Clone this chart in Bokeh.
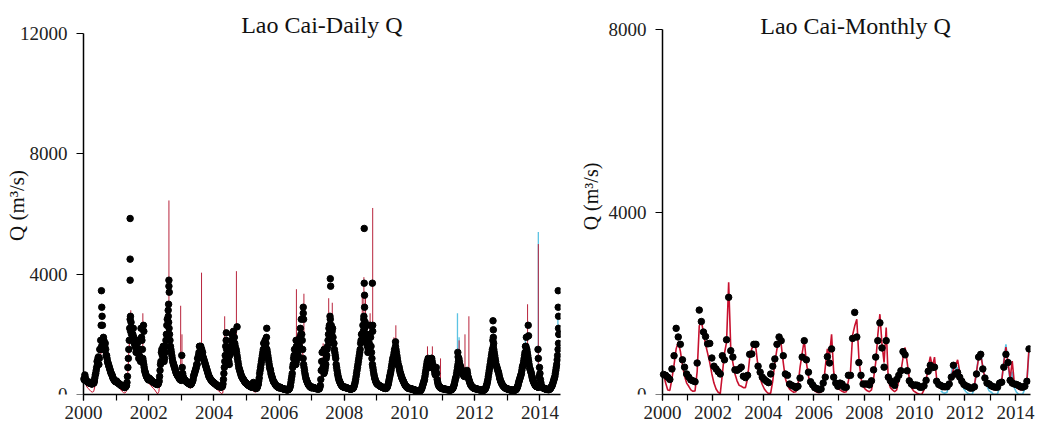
import numpy as np
from bokeh.plotting import figure
from bokeh.layouts import row
from bokeh.models import Label, SingleIntervalTicker, FixedTicker, Range1d
from bokeh.embed import file_html
from bokeh.resources import INLINE

SERIF = "Liberation Serif"
RED = "#c8102e"
BLUE = "#5cc3e3"

# ---------------- Daily panel: observed (3 values per month, Jan 2000 - Jul 2014)
obs_d_2000 = [520, 650, 480, 450, 420, 400, 380, 400, 360, 350, 420, 380, 550, 700, 900, 1000, 1250, 1200, 1500, 2300, 1800, 1700, 1800, 1600, 1500, 1300, 1100, 1000, 900, 800, 700, 650, 550, 500, 450, 420]
obs_d_2001 = [450, 400, 380, 350, 330, 300, 300, 280, 250, 230, 250, 300, 600, 1200, 1800, 2500, 2400, 2200, 2000, 1900, 1800, 1600, 1500, 1700, 1400, 1300, 1250, 2200, 1800, 1200, 1000, 800, 700, 600, 550, 500]
obs_d_2002 = [550, 500, 480, 450, 420, 400, 380, 360, 350, 330, 350, 450, 800, 1100, 1500, 1400, 1300, 1200, 1600, 2000, 2500, 2800, 2200, 1800, 1500, 1300, 1100, 1000, 900, 800, 700, 650, 600, 550, 500, 480]
obs_d_2003 = [1300, 700, 550, 500, 450, 430, 400, 380, 360, 340, 330, 380, 450, 600, 700, 800, 900, 1000, 1200, 1400, 1600, 1600, 1500, 1400, 1200, 1100, 1000, 900, 800, 700, 600, 550, 500, 450, 420, 400]
obs_d_2004 = [380, 350, 330, 300, 280, 270, 260, 250, 250, 280, 500, 900, 1300, 1800, 1200, 1000, 1100, 1300, 1600, 1800, 2000, 2100, 1900, 1600, 1500, 1300, 1100, 900, 800, 700, 600, 550, 500, 450, 400, 380]
obs_d_2005 = [350, 320, 300, 280, 260, 250, 240, 400, 300, 220, 200, 220, 300, 450, 700, 900, 1100, 1300, 1500, 1700, 1800, 1700, 1500, 1300, 1100, 900, 800, 650, 550, 450, 400, 350, 300, 280, 250, 230]
obs_d_2006 = [250, 230, 210, 200, 190, 180, 170, 160, 160, 150, 170, 200, 300, 500, 700, 1000, 1300, 1200, 1000, 1200, 1500, 1800, 1600, 2200, 2500, 1800, 1200, 900, 700, 550, 450, 380, 320, 280, 250, 230]
obs_d_2007 = [250, 230, 220, 210, 200, 190, 190, 180, 200, 300, 800, 1400, 900, 700, 800, 1000, 1300, 1600, 2000, 2300, 2500, 2300, 2100, 1900, 1700, 1400, 1200, 900, 700, 550, 450, 380, 320, 280, 260, 240]
obs_d_2008 = [250, 230, 220, 210, 200, 190, 180, 180, 190, 200, 250, 350, 500, 700, 900, 1100, 1300, 1500, 1800, 2000, 2300, 2500, 2200, 2000, 1800, 1600, 1500, 1700, 2300, 1600, 1200, 900, 700, 550, 450, 380]
obs_d_2009 = [350, 320, 300, 280, 260, 250, 230, 220, 210, 200, 210, 250, 350, 500, 650, 800, 1000, 1200, 1300, 1500, 1600, 1400, 1200, 1000, 900, 750, 650, 550, 480, 420, 350, 300, 260, 230, 210, 200]
obs_d_2010 = [200, 190, 180, 170, 160, 150, 140, 130, 120, 120, 110, 120, 150, 200, 300, 400, 500, 700, 900, 1100, 1200, 1000, 900, 1100, 1200, 1000, 900, 800, 650, 900, 500, 350, 280, 240, 220, 200]
obs_d_2011 = [200, 190, 180, 170, 170, 160, 160, 150, 150, 150, 160, 200, 250, 350, 500, 600, 800, 1000, 1200, 1000, 900, 800, 700, 650, 600, 700, 650, 800, 600, 500, 400, 320, 280, 250, 220, 200]
obs_d_2012 = [200, 190, 180, 170, 160, 160, 150, 150, 140, 140, 150, 180, 250, 350, 500, 700, 900, 1100, 1300, 1500, 1600, 1400, 1200, 1000, 900, 800, 700, 550, 450, 380, 320, 280, 250, 220, 200, 190]
obs_d_2013 = [180, 170, 160, 150, 150, 140, 140, 140, 150, 160, 200, 280, 400, 500, 600, 700, 900, 1000, 1200, 1400, 1600, 1500, 1300, 1100, 900, 800, 700, 550, 450, 380, 320, 280, 260, 250, 240, 900]
obs_d_2014 = [500, 300, 250, 220, 200, 190, 180, 170, 170, 160, 170, 200, 250, 300, 400, 500, 600, 800, 1000, 1300, 1700]

# in-between days (5 days after each value above): the day-to-day scatter of the band
obs_e_2000 = [480, 560, 460, 430, 410, 390, 370, 380, 350, 380, 400, 450, 650, 800, 1100, 1200, 1000, 1500, 1800, 1600, 1500, 1900, 1500, 1700, 1300, 1200, 1050, 950, 850, 750, 680, 600, 520, 480, 440, 430]
obs_e_2001 = [420, 390, 360, 340, 310, 300, 290, 260, 240, 240, 280, 400, 900, 1500, 2200, 2100, 2000, 1800, 2200, 1700, 1600, 1400, 1800, 1500, 1200, 1500, 1100, 1900, 1500, 1100, 900, 750, 650, 580, 520, 480]
obs_e_2002 = [520, 490, 460, 430, 410, 390, 370, 350, 340, 340, 400, 600, 1000, 1400, 1300, 1600, 1100, 1400, 1800, 2300, 2000, 2400, 2000, 1600, 1400, 1200, 1050, 950, 850, 750, 680, 620, 580, 520, 490, 470]
obs_e_2003 = [900, 600, 520, 480, 440, 420, 390, 370, 350, 330, 350, 420, 500, 650, 750, 850, 1000, 1200, 1300, 1600, 1400, 1500, 1300, 1250, 1150, 1050, 950, 850, 750, 650, 580, 520, 480, 440, 410, 390]
obs_e_2004 = [360, 340, 310, 290, 270, 260, 250, 250, 260, 350, 700, 1100, 1600, 1500, 1100, 1200, 1000, 1500, 1400, 2000, 1700, 1900, 1700, 1500, 1400, 1200, 1000, 850, 750, 650, 580, 520, 480, 430, 390, 370]
obs_e_2005 = [330, 310, 290, 270, 250, 240, 300, 350, 260, 210, 210, 250, 350, 550, 800, 1000, 1200, 1400, 1700, 1500, 1600, 1900, 1400, 1200, 1000, 850, 700, 600, 500, 420, 380, 330, 290, 260, 240, 220]
obs_e_2006 = [240, 220, 200, 195, 185, 175, 165, 160, 155, 160, 180, 250, 400, 600, 900, 1200, 1500, 1000, 1100, 1400, 1300, 1500, 1900, 2000, 2000, 1500, 1000, 800, 620, 500, 420, 350, 300, 270, 240, 220]
obs_e_2007 = [240, 225, 215, 205, 195, 190, 185, 185, 250, 500, 1100, 1100, 800, 750, 900, 1200, 1500, 1800, 2200, 2000, 2200, 2000, 2200, 1700, 1500, 1300, 1000, 800, 620, 500, 420, 350, 300, 270, 250, 235]
obs_e_2008 = [240, 225, 215, 205, 195, 185, 180, 185, 195, 220, 300, 420, 600, 800, 1000, 1200, 1400, 1700, 2000, 1800, 2100, 2200, 2400, 1800, 1700, 1400, 1600, 2000, 1900, 1400, 1000, 800, 620, 500, 420, 360]
obs_e_2009 = [330, 310, 290, 270, 255, 240, 225, 215, 205, 205, 230, 300, 420, 580, 720, 900, 1100, 1100, 1400, 1400, 1500, 1300, 1100, 950, 820, 700, 600, 520, 450, 380, 320, 280, 245, 220, 205, 195]
obs_e_2010 = [195, 185, 175, 165, 155, 145, 135, 125, 120, 115, 115, 130, 170, 250, 350, 450, 600, 800, 1000, 1000, 1100, 950, 1000, 1200, 1100, 950, 850, 700, 800, 700, 420, 310, 260, 230, 210, 195]
obs_e_2011 = [195, 185, 175, 170, 165, 160, 155, 150, 150, 155, 180, 220, 300, 420, 550, 700, 900, 1100, 1100, 950, 850, 750, 680, 620, 650, 680, 720, 700, 550, 450, 360, 300, 260, 235, 210, 195]
obs_e_2012 = [195, 185, 175, 165, 160, 155, 150, 145, 140, 145, 165, 210, 300, 420, 600, 800, 1000, 1200, 1400, 1800, 1500, 1300, 1100, 950, 850, 750, 620, 500, 420, 350, 300, 265, 235, 210, 195, 185]
obs_e_2013 = [175, 165, 155, 150, 145, 140, 140, 145, 155, 180, 240, 330, 450, 550, 650, 800, 950, 1100, 1300, 1600, 1900, 1400, 1200, 1000, 850, 750, 620, 500, 420, 350, 300, 270, 255, 245, 600, 700]
obs_e_2014 = [400, 270, 235, 210, 195, 185, 175, 170, 165, 165, 185, 220, 280, 350, 450, 550, 700, 900, 1150, 1500, 2000]

# flood-day observations standing out above the band (decimal year, m3/s)
obs_peak_t = [2000.55, 2000.56, 2000.57, 2000.58, 2001.43, 2001.43, 2001.43, 2001.44, 2001.84, 2001.85,
              2002.62, 2002.62, 2002.63, 2002.61, 2002.60, 2004.38, 2004.71, 2005.62, 2006.74, 2006.74,
              2006.75, 2006.52, 2006.53, 2007.57, 2007.58, 2007.56, 2007.38, 2008.61, 2008.61, 2008.62,
              2008.62, 2008.60, 2008.86, 2008.87, 2008.87, 2009.57, 2011.48, 2011.49, 2012.56, 2012.57,
              2012.57, 2012.58, 2013.64, 2013.65, 2013.94, 2013.95, 2014.56, 2014.56, 2014.57, 2014.57, 2014.58]
obs_peak_q = [3450, 2900, 2600, 2300, 5850, 4500, 3800, 2600, 2300, 2100,
              3800, 3600, 3400, 3000, 2600, 2050, 2250, 2200, 2900, 2700,
              2500, 1800, 1600, 3850, 3600, 2600, 1500, 5520, 3700, 3300,
              2900, 2600, 3700, 2300, 2100, 1750, 1400, 1250, 2450, 2150,
              1900, 1700, 2300, 1950, 1500, 1200, 3450, 2900, 2600, 2200, 2000]

# ---------------- Daily panel: simulated (2 values per month)
sim_d_2000 = [450, 350, 250, 200, 150, 100, 80, 100, 300, 600, 900, 1100, 1300, 1500, 1600, 1500, 1300, 1100, 900, 800, 650, 550, 450, 350]
sim_d_2001 = [300, 250, 200, 150, 100, 60, 50, 100, 600, 1500, 2200, 2000, 1800, 1700, 1500, 1600, 1300, 1100, 1500, 1000, 800, 650, 500, 400]
sim_d_2002 = [350, 300, 250, 200, 150, 80, 20, 100, 600, 1100, 1300, 1200, 1500, 2200, 2500, 1800, 1300, 1100, 900, 750, 600, 500, 420, 380]
sim_d_2003 = [800, 500, 400, 350, 300, 250, 200, 250, 400, 600, 800, 1000, 1300, 1500, 1400, 1300, 1100, 900, 750, 600, 500, 400, 330, 280]
sim_d_2004 = [250, 200, 150, 120, 80, 30, 50, 500, 1200, 1000, 1000, 1200, 1500, 1900, 1800, 1500, 1200, 1000, 800, 650, 500, 420, 350, 300]
sim_d_2005 = [250, 200, 180, 150, 130, 100, 80, 100, 300, 600, 900, 1200, 1500, 1700, 1500, 1200, 900, 700, 550, 450, 350, 280, 220, 180]
sim_d_2006 = [160, 140, 120, 100, 80, 60, 60, 100, 300, 600, 1000, 1200, 1000, 1300, 1600, 1800, 2000, 1300, 800, 600, 450, 350, 280, 220]
sim_d_2007 = [180, 160, 140, 120, 100, 100, 200, 1000, 800, 700, 1100, 1500, 2000, 2300, 2200, 1900, 1500, 1100, 800, 600, 450, 350, 280, 220]
sim_d_2008 = [180, 160, 140, 120, 100, 100, 150, 250, 500, 800, 1100, 1400, 1800, 2200, 2300, 2000, 1700, 1500, 2000, 1500, 900, 600, 400, 300]
sim_d_2009 = [250, 220, 200, 180, 150, 130, 130, 180, 350, 550, 800, 1100, 1400, 1500, 1300, 1000, 800, 650, 500, 400, 300, 230, 180, 150]
sim_d_2010 = [130, 110, 90, 70, 50, 40, 30, 40, 100, 200, 350, 600, 900, 1100, 1000, 1000, 1100, 900, 700, 800, 450, 300, 220, 180]
sim_d_2011 = [160, 150, 140, 130, 120, 110, 110, 150, 250, 400, 600, 900, 1000, 900, 750, 650, 600, 650, 700, 550, 380, 300, 250, 200]
sim_d_2012 = [180, 160, 150, 140, 130, 120, 120, 150, 250, 400, 700, 1000, 1300, 1500, 1300, 1100, 900, 750, 550, 420, 320, 260, 220, 190]
sim_d_2013 = [170, 150, 140, 130, 120, 120, 130, 200, 350, 500, 700, 900, 1200, 1500, 1400, 1200, 900, 750, 550, 420, 320, 270, 250, 600]
sim_d_2014 = [400, 250, 200, 170, 150, 140, 140, 160, 220, 320, 450, 600, 900, 1400]

# short simulated flood spikes (decimal year, foot value, peak value)
red_spike_t = [2001.45, 2001.82, 2002.40, 2002.62, 2002.98, 2003.02, 2003.62, 2004.33, 2004.69, 2006.53,
               2006.62, 2006.76, 2007.35, 2007.52, 2007.63, 2008.55, 2008.60, 2008.65, 2008.79, 2008.87,
               2009.52, 2009.58, 2010.55, 2010.70, 2010.95, 2011.52, 2011.70, 2011.82, 2013.40, 2013.62, 2013.95]
red_spike_lo = [2200, 1500, 1200, 2500, 800, 700, 1500, 1000, 2000, 1400,
                1500, 2000, 1000, 2300, 2300, 2000, 2200, 2000, 1600, 2000,
                1200, 1500, 1000, 1000, 500, 1000, 700, 700, 300, 1500, 600]
red_spike_hi = [2800, 2700, 1700, 6450, 2950, 2000, 4050, 2600, 4100, 3500,
                2100, 3350, 1700, 3200, 3050, 3300, 3900, 3400, 2700, 6200,
                1900, 2300, 1600, 1600, 1200, 1800, 2000, 2600, 1000, 3000, 5000]
blue_spike_t = [2011.43, 2011.47, 2011.52, 2013.55, 2013.95, 2014.55]
blue_spike_lo = [800, 1000, 1000, 1200, 600, 2000]
blue_spike_hi = [1500, 2700, 1900, 1800, 5400, 2600]

# ---------------- Monthly panel (Jan 2000 - Jul 2014)
obs_m = [440, 420, 380, 330, 560, 850, 1450, 1260, 1100, 760, 600, 450,
         380, 320, 300, 280, 690, 1850, 1600, 1370, 1270, 1110, 1120, 800,
         620, 560, 500, 450, 850, 760, 1200, 2130, 960, 820, 540, 530,
         560, 600, 400, 370, 420, 880, 890, 1100, 1100, 620, 490, 380,
         330, 290, 260, 450, 620, 780, 1100, 1260, 1180, 850, 450, 420,
         230, 200, 180, 150, 180, 360, 820, 1180, 760, 490, 280, 210,
         150, 130, 110, 120, 250, 380, 830, 690, 1000, 380, 250, 180,
         250, 230, 160, 160, 420, 420, 1230, 1800, 1260, 700, 420, 230,
         230, 230, 210, 300, 540, 820, 1180, 1570, 1020, 600, 1180, 380,
         300, 240, 200, 330, 420, 520, 940, 870, 520, 300, 230, 200,
         210, 200, 160, 160, 190, 310, 510, 640, 590, 600, 290, 220,
         200, 170, 170, 170, 230, 380, 640, 450, 480, 380, 290, 220,
         190, 170, 140, 140, 170, 450, 820, 880, 560, 360, 250, 230,
         190, 170, 160, 160, 250, 270, 600, 880, 700, 310, 250, 230,
         220, 200, 170, 160, 180, 290, 1000]
sim_m = [450, 250, 100, 90, 350, 650, 1000, 1150, 950, 650, 400, 250,
         180, 100, 70, 80, 500, 1500, 1620, 1350, 1100, 900, 700, 450,
         250, 120, 50, 20, 450, 900, 1150, 2460, 1000, 700, 450, 300,
         200, 180, 150, 150, 350, 800, 1000, 1100, 1000, 600, 350, 220,
         120, 60, 20, 30, 300, 700, 1000, 1150, 1100, 700, 350, 200,
         120, 80, 50, 60, 200, 600, 900, 1200, 700, 400, 200, 120,
         80, 50, 40, 50, 150, 600, 1000, 850, 1320, 500, 250, 130,
         100, 70, 50, 60, 300, 500, 1300, 1500, 1650, 800, 350, 180,
         120, 80, 60, 100, 350, 700, 1300, 1760, 1100, 700, 1470, 300,
         150, 100, 60, 100, 300, 500, 800, 1030, 700, 350, 150, 80,
         50, 20, 5, 10, 100, 300, 600, 830, 600, 820, 350, 150,
         150, 120, 110, 120, 250, 400, 550, 620, 760, 500, 280, 180,
         150, 130, 120, 130, 200, 500, 800, 880, 600, 350, 220, 150,
         130, 110, 100, 110, 200, 300, 700, 1040, 700, 350, 730, 250,
         150, 120, 100, 110, 150, 300, 1030]
sim2_m_start = 2011
sim2_m = [80, 40, 30, 50, 250, 450, 700, 550, 600, 450, 250, 120,
          60, 20, 5, 10, 150, 500, 850, 950, 600, 350, 180, 80,
          50, 10, 5, 10, 180, 300, 750, 1100, 650, 300, 500, 150,
          50, 10, 5, 10, 120, 280, 950]

title_daily = "Lao Cai-Daily Q"
title_monthly = "Lao Cai-Monthly Q"
y_label = "Q (m\u00b3/s)"

# ---------------- assemble
obs_d = np.array(obs_d_2000 + obs_d_2001 + obs_d_2002 + obs_d_2003 + obs_d_2004 + obs_d_2005 + obs_d_2006 +
                 obs_d_2007 + obs_d_2008 + obs_d_2009 + obs_d_2010 + obs_d_2011 + obs_d_2012 + obs_d_2013 +
                 obs_d_2014, dtype=float)
t_obs_d = 2000 + (np.arange(len(obs_d)) + 0.5) / 36.0
obs_e = np.array(obs_e_2000 + obs_e_2001 + obs_e_2002 + obs_e_2003 + obs_e_2004 + obs_e_2005 + obs_e_2006 +
                 obs_e_2007 + obs_e_2008 + obs_e_2009 + obs_e_2010 + obs_e_2011 + obs_e_2012 + obs_e_2013 +
                 obs_e_2014, dtype=float)
t_obs_e = 2000 + (np.arange(len(obs_e)) + 1.0) / 36.0
sim_d = np.array(sim_d_2000 + sim_d_2001 + sim_d_2002 + sim_d_2003 + sim_d_2004 + sim_d_2005 + sim_d_2006 +
                 sim_d_2007 + sim_d_2008 + sim_d_2009 + sim_d_2010 + sim_d_2011 + sim_d_2012 + sim_d_2013 +
                 sim_d_2014, dtype=float)
t_sim_d = 2000 + (np.arange(len(sim_d)) + 0.5) / 24.0
t_m = 2000 + (np.arange(len(obs_m)) + 0.5) / 12.0
t_m2 = sim2_m_start + (np.arange(len(sim2_m)) + 0.5) / 12.0


def style(p, x_end, y_top, yticks):
    p.xaxis.ticker = SingleIntervalTicker(interval=2, num_minor_ticks=2)
    p.yaxis.ticker = FixedTicker(ticks=yticks)
    p.xaxis.bounds = (2000, x_end)
    p.yaxis.bounds = (0, y_top)
    p.yaxis.fixed_location = 2000
    for ax in (p.xaxis[0], p.yaxis[0]):
        ax.axis_line_color = "black"
        ax.axis_line_width = 1.5
        ax.major_tick_line_color = "black"
        ax.major_tick_line_width = 1.2
        ax.major_tick_in = 0
        ax.major_tick_out = 6
        ax.minor_tick_line_color = "black"
        ax.minor_tick_line_width = 1.2
        ax.minor_tick_in = 0
        ax.minor_tick_out = 6
        ax.major_label_text_font = SERIF
        ax.major_label_text_font_size = "19px"
        ax.major_label_text_color = "#222222"
        ax.major_label_standoff = 5
    p.yaxis.minor_tick_line_color = None
    p.yaxis.major_tick_out = 7
    p.yaxis.major_label_standoff = 9
    p.xgrid.visible = False
    p.ygrid.visible = False
    p.outline_line_color = None
    p.background_fill_color = "white"
    p.border_fill_color = "white"


# Daily: frame spans x 0..560, y 0..394 of the page; 2000 sits at x=83, 12000 at y=33
d_x_end = 2014.63
p1 = figure(width=580, height=427, x_range=Range1d(1997.454, d_x_end), y_range=Range1d(0, 13097),
            output_backend="svg", toolbar_location=None,
            min_border_left=0, min_border_right=20, min_border_top=0, min_border_bottom=33)
style(p1, d_x_end, 12000, [0, 4000, 8000, 12000])
p1.segment(x0=blue_spike_t, y0=blue_spike_lo, x1=blue_spike_t, y1=blue_spike_hi, line_color=BLUE, line_width=1.3)
p1.line(t_sim_d, sim_d, line_color=RED, line_width=1.0)
p1.segment(x0=red_spike_t, y0=red_spike_lo, x1=red_spike_t, y1=red_spike_hi, line_color="#b8243c", line_width=1.0)
p1.scatter(t_obs_d, obs_d, size=6.5, fill_color="black", line_color="black")
p1.scatter(t_obs_e, obs_e, size=6.5, fill_color="black", line_color="black")
p1.scatter(obs_peak_t, obs_peak_q, size=6.5, fill_color="black", line_color="black")
p1.add_layout(Label(x=2007.31, y=12266, text=title_daily, text_font=SERIF, text_font_size="24px",
                    text_color="#111111", text_align="center", text_baseline="middle"))
p1.add_layout(Label(x=1997.945, y=6283, text=y_label, text_font=SERIF, text_font_size="21px", angle=np.pi / 2,
                    text_color="#111111", text_align="center", text_baseline="middle"))

# Monthly: frame spans x 580..1030, y 0..394; 2000 sits at x=662, 8000 at y=29
m_x_end = 2014.6
p2 = figure(width=459, height=427, x_range=Range1d(1996.747, m_x_end), y_range=Range1d(0, 8636),
            output_backend="svg", toolbar_location=None,
            min_border_left=0, min_border_right=9, min_border_top=0, min_border_bottom=33)
style(p2, m_x_end, 8000, [0, 4000, 8000])
p2.line(t_m2, sim2_m, line_color=BLUE, line_width=1.6)
p2.line(t_m, sim_m, line_color=RED, line_width=1.6)
p2.scatter(t_m, obs_m, size=6.5, fill_color="black", line_color="black")
p2.add_layout(Label(x=2007.66, y=8088, text=title_monthly, text_font=SERIF, text_font_size="24px",
                    text_color="#111111", text_align="center", text_baseline="middle"))
p2.add_layout(Label(x=1997.183, y=4340, text=y_label, text_font=SERIF, text_font_size="20px", angle=np.pi / 2,
                    text_color="#111111", text_align="center", text_baseline="middle"))

layout = row(p1, p2)
open("out.html", "w").write(file_html(layout, INLINE))
